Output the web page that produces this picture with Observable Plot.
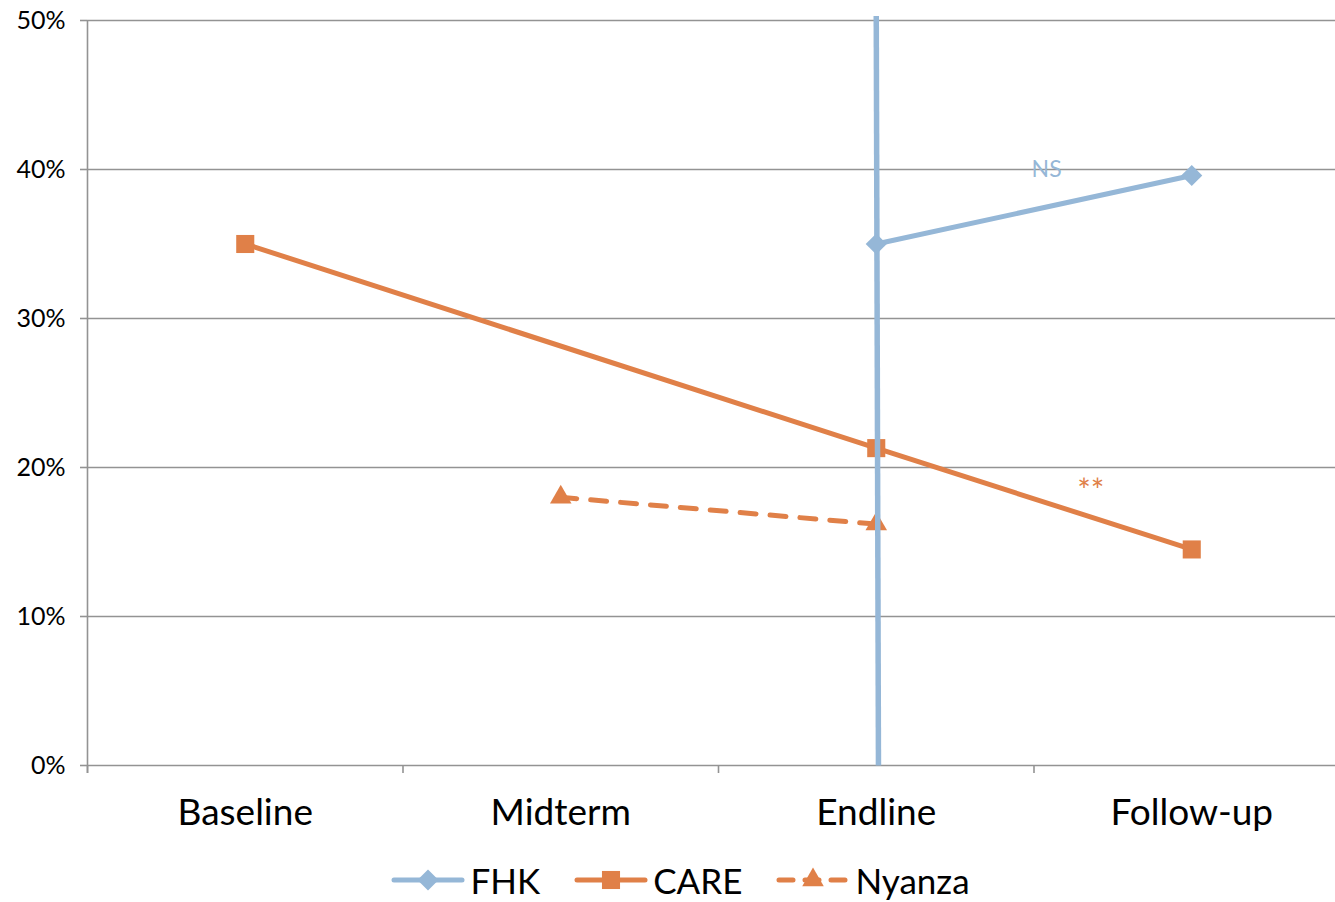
<!DOCTYPE html>
<html>
<head>
<meta charset="utf-8">
<script src="https://cdn.jsdelivr.net/npm/d3@7"></script>
<script src="https://cdn.jsdelivr.net/npm/@observablehq/plot@0.6"></script>
<style>
  html, body { margin: 0; padding: 0; background: #fff; }
  body { width: 1335px; height: 902px; overflow: hidden; font-family: Lato, "Open Sans", sans-serif; }
  #legend { display: flex; justify-content: center; align-items: center; height: 50px; font-size: 35px; color: #000; padding-left: 26px; }
  .item { display: flex; align-items: center; margin: 0 17px; }
  .item svg { margin-right: 5px; }
</style>
</head>
<body>
<div id="chart"></div>
<div id="legend"></div>
<script>
// ---- data ----
const categories = ["Baseline", "Midterm", "Endline", "Follow-up"];
const seriesNames = ["FHK", "CARE", "Nyanza"];
const fhkValues = [null, null, 0.35, 0.396];
const careValues = [0.35, null, 0.213, 0.145];
const nyanzaValues = [null, 0.18, 0.162, null];
// FHK vertical spike drawn at Endline (from above 50% down to 0%)
const fhkSpike = [{x1: 2.5, y1: 0.503, x2: 2.507, y2: 0}];
const yTicks = [0, 0.1, 0.2, 0.3, 0.4, 0.5];
const annotationTexts = ["NS", "**"];
const annotationX = [3.04, 3.18];
const annotationY = [0.40, 0.184];
const annotationSeries = ["FHK", "CARE"];

// ---- styles ----
const colors = {FHK: "#95B7D7", CARE: "#E08048", Nyanza: "#E08048"};
const symbols = {FHK: "diamond2", CARE: "square", Nyanza: "triangle"};
const radii = {FHK: 9.5, CARE: 10.2, Nyanza: 8};
const annotationSizes = [23, 32];
const grid = "#939393";

const toRows = (name, vals) => vals
  .map((v, i) => ({series: name, pos: i + 0.5, value: v}))
  .filter(d => d.value != null);
const fhk = toRows("FHK", fhkValues);
const care = toRows("CARE", careValues);
const nyanza = toRows("Nyanza", nyanzaValues);
const annotations = annotationTexts.map((t, i) => ({text: t, x: annotationX[i], y: annotationY[i], series: annotationSeries[i], size: annotationSizes[i]}));
const boundaries = d3.range(categories.length + 1);
const centers = categories.map((c, i) => i + 0.5);

const chart = Plot.plot({
  width: 1335,
  height: 855,
  marginTop: 20,
  marginBottom: 90,
  marginLeft: 87,
  marginRight: 0,
  style: {fontFamily: "Lato, 'Open Sans', sans-serif", color: "#000", background: "#fff"},
  x: {type: "linear", domain: [0, categories.length], range: [87, 87 + 315.5 * categories.length], axis: null},
  y: {domain: [0, 0.5], axis: null},
  marks: [
    Plot.ruleY(yTicks, {stroke: grid, strokeWidth: 1.6}),
    Plot.ruleX([0], {stroke: grid, strokeWidth: 1.6, insetBottom: -8}),
    Plot.axisY({ticks: yTicks, tickFormat: d3.format(".0%"), tickSize: 7, tickPadding: 15, fontSize: 25, stroke: grid, strokeWidth: 1.6, color: "#000"}),
    Plot.axisX({ticks: boundaries, tickFormat: () => "", tickSize: 8, stroke: grid, strokeWidth: 1.6}),
    Plot.axisX({ticks: centers, tickFormat: d => categories[Math.round(d - 0.5)], tickSize: 0, tickPadding: 33, fontSize: 37, color: "#000"}),
    // CARE
    Plot.line(care, {x: "pos", y: "value", stroke: colors.CARE, strokeWidth: 5}),
    Plot.dot(care, {x: "pos", y: "value", symbol: () => symbols.CARE, r: radii.CARE, fill: colors.CARE, stroke: "none"}),
    // Nyanza
    Plot.line(nyanza, {x: "pos", y: "value", stroke: colors.Nyanza, strokeWidth: 5, strokeDasharray: "16,14", strokeLinecap: "round"}),
    Plot.dot(nyanza, {x: "pos", y: "value", symbol: () => symbols.Nyanza, r: radii.Nyanza, fill: colors.Nyanza, stroke: "none"}),
    // FHK
    Plot.link(fhkSpike, {x1: "x1", y1: "y1", x2: "x2", y2: "y2", stroke: colors.FHK, strokeWidth: 5.5, strokeLinecap: "butt"}),
    Plot.line(fhk, {x: "pos", y: "value", stroke: colors.FHK, strokeWidth: 5}),
    Plot.dot(fhk, {x: "pos", y: "value", symbol: () => symbols.FHK, r: radii.FHK, fill: colors.FHK, stroke: "none"}),
    // annotations
    Plot.text(annotations, {x: "x", y: "y", text: "text", fill: d => colors[d.series], fontSize: "size"})
  ]
});
document.getElementById("chart").appendChild(chart);

// ---- legend ----
const legend = d3.select("#legend");
const dash = {FHK: null, CARE: null, Nyanza: "14,12"};
seriesNames.forEach(name => {
  const item = legend.append("div").attr("class", "item");
  const svg = item.append("svg").attr("width", 74).attr("height", 30);
  svg.append("line").attr("x1", 3).attr("x2", 71).attr("y1", 15).attr("y2", 15)
    .attr("stroke", colors[name]).attr("stroke-width", 5).attr("stroke-linecap", "round")
    .attr("stroke-dasharray", dash[name]);
  const size = Math.PI * radii[name] * radii[name];
  const sym = {diamond2: d3.symbolDiamond2, square: d3.symbolSquare, triangle: d3.symbolTriangle}[symbols[name]];
  svg.append("path").attr("transform", "translate(37,15)").attr("d", d3.symbol(sym, size)()).attr("fill", colors[name]);
  item.append("span").text(name);
});
</script>
</body>
</html>
